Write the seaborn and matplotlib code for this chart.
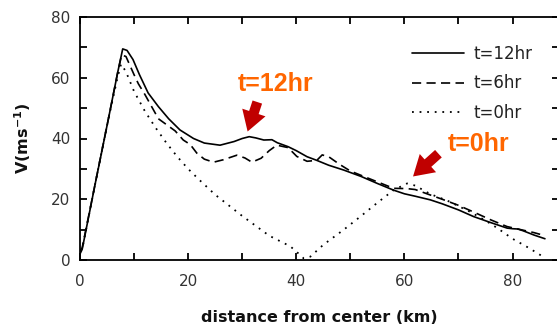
import matplotlib
matplotlib.use("Agg")
import matplotlib.pyplot as plt
import seaborn as sns
import pandas as pd
from matplotlib.ticker import MultipleLocator

# ---- data ----
x_12 = [0, 0.4, 2.8, 5.2, 7.0, 7.9, 8.7, 9.8, 11.0, 12.6, 14.5, 16.4, 18.5, 21.0, 23.0, 25.9,
        28.5, 30.0, 31.3, 32.5, 34.0, 35.5, 36.5, 38.5, 40.0, 42.0, 43.8, 46.0, 48.8, 52.0,
        55.0, 58.0, 60.0, 62.0, 64.8, 67.0, 70.0, 72.8, 76.0, 79.0, 80.0, 81.0, 82.0, 84.0, 86.0]
v_12 = [2.0, 3.5, 25.0, 46.0, 62.0, 69.5, 69.0, 66.0, 61.0, 55.0, 50.5, 46.5, 42.8, 40.0, 38.5, 37.8,
        39.0, 40.0, 40.6, 40.2, 39.5, 39.6, 38.6, 37.3, 36.0, 34.0, 32.8, 31.2, 29.6, 27.5,
        25.2, 23.0, 21.8, 21.0, 19.8, 18.5, 16.5, 14.3, 12.3, 10.5, 10.3, 10.2, 9.6, 8.2, 7.0]

x_6 = [0, 0.4, 2.8, 5.2, 7.0, 7.7, 8.5, 10.0, 10.8, 12.0, 14.5, 17.6, 19.1, 20.4, 21.6, 23.0, 24.7,
       26.5, 29.0, 30.5, 31.8, 33.5, 35.0, 36.4, 38.5, 40.1, 42.0, 43.8, 44.8, 46.0, 48.0, 50.0,
       52.5, 54.9, 58.0, 60.5, 62.0, 64.8, 67.0, 70.0, 72.8, 76.0, 79.0, 82.0, 84.0, 86.0]
v_6 = [3.0, 4.0, 25.0, 46.0, 62.0, 67.5, 67.0, 61.0, 58.0, 54.5, 46.5, 42.5, 39.5, 38.0, 35.2, 33.2, 32.2,
       33.0, 34.5, 33.6, 32.2, 33.5, 36.0, 37.8, 37.0, 34.1, 32.5, 32.8, 34.6, 34.0, 31.5, 29.3,
       27.5, 25.8, 23.6, 23.5, 23.2, 21.4, 20.0, 18.0, 15.8, 13.2, 11.0, 9.8, 9.0, 8.0]

x_0 = [0, 0.4, 2.8, 5.2, 7.0, 7.6, 8.5, 10.0, 12.0, 14.0, 16.0, 18.0, 20.0, 22.0, 25.0, 30.0,
       35.0, 38.9, 40.5, 41.4, 42.6, 45.0, 48.8, 52.0, 54.9, 58.0, 60.5, 62.0, 64.8, 68.0, 72.0,
       75.0, 77.2, 80.0, 83.0, 86.0]
v_0 = [3.0, 3.5, 25.0, 46.0, 60.5, 64.5, 62.0, 55.5, 49.0, 43.5, 38.5, 34.0, 30.0, 26.5, 21.5, 14.5,
       8.0, 4.5, 2.0, 0.5, 1.1, 5.0, 10.0, 14.5, 18.7, 23.0, 25.2, 24.5, 21.7, 19.5, 16.0,
       13.0, 10.5, 7.0, 4.0, 0.7]

labels = ["t=12hr", "t=6hr", "t=0hr"]
x_ticks = [0, 20, 40, 60, 80]
y_ticks = [0, 20, 40, 60, 80]

# ---- style ----
sns.set_style("ticks")
plt.rcParams["font.family"] = ["DejaVu Sans"]
plt.rcParams["mathtext.fontset"] = "dejavusans"

fig = plt.figure(figsize=(5.57, 3.27), dpi=100)
ax = fig.add_axes([80 / 557, 67 / 327, 479 / 557, 243 / 327])

df12 = pd.DataFrame({"x": x_12, "v": v_12})
df6 = pd.DataFrame({"x": x_6, "v": v_6})
df0 = pd.DataFrame({"x": x_0, "v": v_0})

lw = 1.2
sns.lineplot(data=df12, x="x", y="v", ax=ax, color="black", lw=lw, label=labels[0], estimator=None)
sns.lineplot(data=df6, x="x", y="v", ax=ax, color="black", lw=lw, label=labels[1], estimator=None,
             dashes=False, linestyle=(0, (5.5, 3.2)))
sns.lineplot(data=df0, x="x", y="v", ax=ax, color="black", lw=1.3, label=labels[2], estimator=None,
             linestyle=(0, (1, 3.2)))

ax.set_xlim(0, 88.6)
ax.set_ylim(0, 80)
ax.set_xticks(x_ticks)
ax.set_yticks(y_ticks)
ax.xaxis.set_minor_locator(MultipleLocator(10))
ax.yaxis.set_minor_locator(MultipleLocator(10))
for s in ax.spines.values():
    s.set_visible(True)
    s.set_linewidth(1.3)
    s.set_color("black")
ax.tick_params(which="both", direction="in", top=True, right=True, length=5, width=1.3, color="black")
ax.tick_params(axis="x", which="major", pad=10, labelsize=11, labelcolor="#333333")
ax.tick_params(axis="y", which="major", pad=7, labelsize=11, labelcolor="#333333")

ax.set_xlabel("distance from center (km)", fontsize=11.5, fontweight="bold", color="#111111", labelpad=15)
ax.set_ylabel(r"V(ms$^{\mathbf{-1}}$)", fontsize=11.5, fontweight="bold", color="#111111", labelpad=13)

leg = ax.legend(loc="upper left", bbox_to_anchor=(412 / 557, 1 - 45 / 327), bbox_transform=fig.transFigure,
                frameon=False, fontsize=12, handlelength=3.1, handletextpad=0.6, labelspacing=0.68,
                borderpad=0, borderaxespad=0)
for t in leg.get_texts():
    t.set_color("#222222")

orange = "#FF6600"
red = "#C00000"
ax.text(36.1, 58.1, "t=12hr", color=orange, fontsize=18, fontweight="bold", ha="center", va="center",
        family="Liberation Sans")
ax.text(73.7, 38.3, "t=0hr", color=orange, fontsize=18, fontweight="bold", ha="center", va="center",
        family="Liberation Sans")
arrow_style = "simple,head_length=0.9,head_width=1.1,tail_width=0.45"
ax.annotate("", xy=(31.0, 42.3), xytext=(32.8, 52.0),
            arrowprops=dict(arrowstyle=arrow_style, fc=red, ec="none", mutation_scale=16,
                            shrinkA=0, shrinkB=0))
ax.annotate("", xy=(61.6, 27.5), xytext=(66.3, 35.0),
            arrowprops=dict(arrowstyle=arrow_style, fc=red, ec="none", mutation_scale=16,
                            shrinkA=0, shrinkB=0))

fig.savefig("out.png", dpi=100)
